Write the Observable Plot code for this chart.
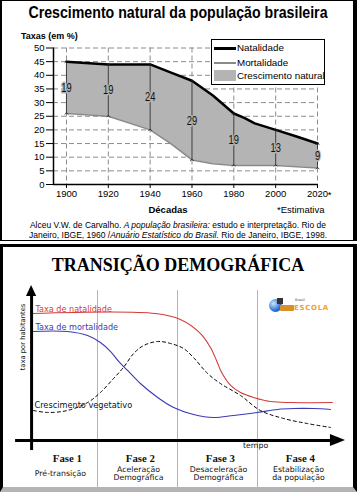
<!DOCTYPE html>
<html><head><meta charset="utf-8">
<script src="https://cdn.jsdelivr.net/npm/d3@7"></script>
<script src="https://cdn.jsdelivr.net/npm/@observablehq/plot@0.6"></script>
<style>
html,body{margin:0;padding:0;background:#fff;}
#wrap{position:relative;width:357px;height:492px;overflow:hidden;background:#fff;}
#wrap svg{position:absolute;left:0;overflow:visible;}
.t{position:absolute;white-space:nowrap;line-height:1;}
.frame{position:absolute;box-sizing:border-box;pointer-events:none;}
</style></head><body><div id="wrap"></div>
<script>
// ---------- Chart 1 data ----------
const decades = [1900, 1920, 1940, 1960, 1980, 2000, 2020];
const natDecadal = [45, 44, 44, 38, 26, 20, 15];
const mortDecadal = [26, 25, 20, 9, 7, 7, 6];
const bandYears = [1900, 1920, 1940, 1950, 1960, 1970, 1980, 1985, 1990, 2000, 2010, 2020];
const natalidade = [45, 44, 44, 41, 38, 32.6, 26, 24.4, 22.4, 20, 17.6, 15];
const mortalidade = [26, 25, 20, 14.9, 9, 7.6, 7, 7, 7, 7, 6.5, 6];
const yTicks = [0, 5, 10, 15, 20, 25, 30, 35, 40, 45, 50];
const xStart = 1893.8;

// ---------- Chart 2 data (schematic, tempo 0-100, taxa 0-100) ----------
const natT = [4.4, 43.1, 50.9, 57.2, 60.3, 62.2, 63.8, 66.6, 69.7, 73.8, 79.1, 85.3, 98.4];
const natV = [84.7, 84.7, 80.7, 71.3, 62, 53.3, 45.3, 36.7, 32, 28.7, 26, 25.3, 25.3];
const mortT = [4.4, 15.6, 21.9, 25.9, 29.1, 31.6, 34.4, 38.4, 43.8, 48.8, 55, 61.3, 67.5, 75, 81.3, 86.3, 92.5, 97.8];
const mortV = [72.7, 72.7, 70, 65.3, 59.3, 52.7, 46.7, 38, 28.7, 22, 17.3, 15.3, 16.7, 18.7, 20.7, 21.3, 21.3, 20.7];
const vegT = [5, 9.4, 15.6, 21.9, 25.9, 30, 33.1, 36.3, 39.4, 43.8, 47.8, 51.9, 55, 59.4, 63.4, 69.7, 75.9, 83.1, 90.6, 97.8];
const vegV = [20, 18.7, 20, 25.3, 32, 41.3, 48.7, 58, 63.3, 66, 64.7, 61.3, 55.3, 44.7, 38, 30, 20, 14.7, 11.3, 8.7];
const phaseBounds = [25, 50, 75];
const phaseNames = ["Fase 1", "Fase 2", "Fase 3", "Fase 4"];
const phaseDesc = ["Pré-transição", "Aceleração\nDemográfica", "Desaceleração\nDemográfica", "Estabilização\nda população"];
const phaseNameX = [15.6, 38.4, 63.4, 88.4];
const phaseDescX = [13.4, 37.8, 62.8, 87.8];
const seriesLabels = ["Taxa de natalidade", "Taxa de mortalidade", "Crescimento vegetativo"];

const wrap = document.getElementById("wrap");
function txt(html, x, y, style, anchor, sx) {
  const d = document.createElement("div");
  d.className = "t";
  d.innerHTML = html;
  d.style.cssText += `left:${x}px;top:${y}px;` + style;
  const tx = anchor === "middle" ? "-50%" : anchor === "end" ? "-100%" : "0";
  d.style.transform = `translate(${tx},-50%)` + (sx ? ` scaleX(${sx})` : "");
  wrap.appendChild(d);
  return d;
}
function squeeze(svg, selector, k) {
  svg.querySelectorAll(selector).forEach(function(el) {
    const x = +(el.getAttribute("x") || 0);
    const tr = el.getAttribute("transform") || "";
    el.setAttribute("transform", `${tr} translate(${x},0) scale(${k},1) translate(${-x},0)`);
  });
}

// ---------- Chart 1 ----------
const rows = bandYears.map((y, i) => ({year: y, nat: natalidade[i], mort: mortalidade[i]}));
const arrows = decades.map((y, i) => ({year: y, nat: natDecadal[i], mort: mortDecadal[i], diff: natDecadal[i] - mortDecadal[i]}));
const sans = "Liberation Sans, Arial, Helvetica, sans-serif";
const band = "#b4b4b4";

const chart1 = Plot.plot({
  width: 357, height: 241,
  marginLeft: 53, marginRight: 40, marginTop: 47.5, marginBottom: 57,
  x: {domain: [xStart, 2020]},
  y: {domain: [0, 50]},
  style: {fontFamily: sans, fontSize: "9.5px", background: "transparent", color: "#000", overflow: "visible"},
  marks: [
    Plot.gridY(yTicks.slice(1), {stroke: "#8c8c8c", strokeOpacity: 1, strokeDasharray: "5,3"}),
    Plot.gridX(decades, {stroke: "#8c8c8c", strokeOpacity: 1, strokeDasharray: "5,3"}),
    Plot.areaY(rows, {x: "year", y1: "mort", y2: "nat", fill: band}),
    Plot.line(rows, {x: "year", y: "mort", stroke: "#8a8a8a", strokeWidth: 1.5}),
    Plot.line(rows, {x: "year", y: "nat", stroke: "#000", strokeWidth: 2.5}),
    Plot.link(arrows, {x1: "year", x2: "year", y1: "mort", y2: "nat", stroke: "#222", strokeWidth: 0.8, markerStart: "arrow", markerEnd: "arrow"}),
    Plot.text(arrows, {x: "year", y: d => (d.nat + d.mort) / 2, text: "diff", fontSize: 13, fill: "#111", stroke: band, strokeWidth: 3}),
    Plot.axisY(yTicks, {tickSize: 7, tickPadding: 2, label: null, fontSize: 9.5}),
    Plot.axisX(decades, {tickSize: 4, tickPadding: 2, label: null, fontSize: 9.5, tickFormat: d => String(d)}),
    Plot.ruleX([xStart], {stroke: "#000", strokeWidth: 1.5}),
    Plot.ruleY([0], {stroke: "#000", strokeWidth: 1.5}),
    Plot.text([2020], {x: d => d, y: 0, text: () => "*", dx: 12, dy: 10, fontSize: 9.5})
  ]
});
chart1.style.top = "0px";
wrap.appendChild(chart1);
squeeze(chart1, 'g[font-size="13"] text', 0.72);

txt("Crescimento natural da população brasileira", 178, 13, `font-family:${sans};font-weight:bold;font-size:16px;`, "middle", 0.885);
txt("Taxas (em %)", 21, 36, `font-family:${sans};font-weight:bold;font-size:9px;`, "start");
txt("Décadas", 168, 210, `font-family:${sans};font-weight:bold;font-size:9.5px;`, "middle");
txt("*Estimativa", 277, 210, `font-family:${sans};font-size:9.5px;`, "start");
txt("Alceu V.W. de Carvalho. <i>A população brasileira:</i> estudo e interpretação. Rio de", 178, 224.5, `font-family:${sans};font-size:8.5px;`, "middle");
txt("Janeiro, IBGE, 1960 /<i>Anuário Estatístico do Brasil.</i> Rio de Janeiro, IBGE, 1998.", 178, 234.5, `font-family:${sans};font-size:8.5px;`, "middle");

// legend
const leg = document.createElement("div");
leg.className = "frame";
leg.style.cssText += "left:211px;top:39px;width:114px;height:46px;border:1px solid #000;background:#fff;";
leg.innerHTML = `
<div style="position:absolute;left:2px;top:7px;width:22px;height:2.5px;background:#000"></div>
<div style="position:absolute;left:2px;top:22px;width:22px;height:1.5px;background:#8a8a8a"></div>
<div style="position:absolute;left:2px;top:30px;width:22px;height:11px;background:${band}"></div>
<div class="t" style="left:25px;top:8px;transform:translateY(-50%);font-family:${sans};font-size:9.8px">Natalidade</div>
<div class="t" style="left:25px;top:23px;transform:translateY(-50%);font-family:${sans};font-size:9.8px">Mortalidade</div>
<div class="t" style="left:25px;top:36px;transform:translateY(-50%);font-family:${sans};font-size:9.8px">Crescimento natural</div>`;
wrap.appendChild(leg);

// ---------- Chart 2 ----------
const natRows = natT.map((t, i) => ({t, v: natV[i]}));
const mortRows = mortT.map((t, i) => ({t, v: mortV[i]}));
const vegRows = vegT.map((t, i) => ({t, v: vegV[i]}));
const phases = phaseNames.map((n, i) => ({name: n, desc: phaseDesc[i], nx: phaseNameX[i], dx: phaseDescX[i]}));
const dejavu = "DejaVu Sans, Verdana, sans-serif";
const serif = "Liberation Serif, Times New Roman, serif";
const red = "#d43a3a", blue = "#3a3ab8";

const chart2 = Plot.plot({
  width: 357, height: 246,
  marginLeft: 17, marginRight: 20, marginTop: 44, marginBottom: 52,
  x: {domain: [0, 100], axis: null},
  y: {domain: [0, 100], axis: null},
  style: {fontFamily: dejavu, background: "transparent", overflow: "visible"},
  marks: [
    Plot.ruleX(phaseBounds, {y1: -35, y2: 100, stroke: "#b4b4b4", strokeWidth: 1}),
    Plot.line(natRows, {x: "t", y: "v", stroke: red, strokeWidth: 1.1, curve: "catmull-rom"}),
    Plot.line(mortRows, {x: "t", y: "v", stroke: blue, strokeWidth: 1.1, curve: "catmull-rom"}),
    Plot.line(vegRows, {x: "t", y: "v", stroke: "#000", strokeWidth: 1, strokeDasharray: "3,3", curve: "catmull-rom"}),
    Plot.text([seriesLabels[0]], {x: natT[0] + 1.2, y: 87.3, text: d => d, fill: red, fontSize: 8.1, textAnchor: "start"}),
    Plot.text([seriesLabels[1]], {x: mortT[0] + 1.2, y: 75.3, text: d => d, fill: blue, fontSize: 8.1, textAnchor: "start"}),
    Plot.text([seriesLabels[2]], {x: vegT[0] + 0.3, y: 23.3, text: d => d, fill: "#111", fontSize: 8.2, textAnchor: "start"}),
    // axes
    Plot.ruleX([4.4], {y1: -6.7, y2: 97, stroke: "#000", strokeWidth: 3}),
    Plot.ruleY([0], {x1: -0.6, x2: 98.5, stroke: "#000", strokeWidth: 3}),
    Plot.areaX([{v: 96, a: 2.8, b: 6.0}, {v: 103.3, a: 4.4, b: 4.4}], {y: "v", x1: "a", x2: "b", fill: "#000"}),
    Plot.areaY([{t: 97.8, a: -4, b: 4}, {t: 102.5, a: 0, b: 0}], {x: "t", y1: "a", y2: "b", fill: "#000"}),
    Plot.text(["taxa por habitantes"], {x: 1.6, y: 69, text: d => d, rotate: -90, fontSize: 6.8, fill: "#111"}),
    Plot.text(["tempo"], {x: 74.4, y: -3.5, text: d => d, fontSize: 7.8, fill: "#111"}),
    Plot.text(phases, {x: "nx", y: -12, text: "name", fontFamily: serif, fontWeight: "bold", fontSize: 10.8, fill: "#111"}),
    Plot.text(phases, {x: "dx", y: -22, text: "desc", fontSize: 7.8, lineHeight: 1.0, fill: "#111"})
  ]
});
chart2.style.top = "246px";
wrap.appendChild(chart2);

txt("TRANSIÇÃO DEMOGRÁFICA", 178, 265, `font-family:${serif};font-weight:bold;font-size:18px;`, "middle");

// logo
const logo = document.createElement("div");
logo.className = "frame";
logo.style.cssText += "left:268px;top:297px;width:72px;height:17px;";
logo.innerHTML = `
<div style="position:absolute;left:1px;top:2px;width:13px;height:13px;border-radius:50%;background:radial-gradient(circle at 35% 35%,#cfe6ff,#2a6fd0 60%,#163f8a)"></div>
<div style="position:absolute;left:12px;top:8px;width:14px;height:6px;background:#d9902a;border-radius:1px"></div>
<div style="position:absolute;left:9px;top:1px;width:6px;height:6px;background:#333"></div>
<div class="t" style="left:27px;top:4px;transform:translateY(-50%);font-family:${dejavu};font-size:3.5px;color:#555">Brasil</div>
<div class="t" style="left:26px;top:11px;transform:translateY(-50%);font-family:${dejavu};font-weight:bold;font-size:7px;letter-spacing:0.7px;color:#f0a22a">ESCOLA</div>`;
wrap.appendChild(logo);

// frames
const f1 = document.createElement("div");
f1.className = "frame";
f1.style.cssText += "left:0;top:0;width:357px;height:241px;border-left:2px solid #000;border-top:1px solid #000;border-right:4px solid #000;border-bottom:1px solid #000;";
wrap.appendChild(f1);
const f2 = document.createElement("div");
f2.className = "frame";
f2.style.cssText += "left:0;top:244px;width:357px;height:248px;border-left:3px solid #000;border-top:3px solid #000;border-right:4px solid #000;border-bottom:5px solid #b4b4b4;";
wrap.appendChild(f2);
</script></body></html>
